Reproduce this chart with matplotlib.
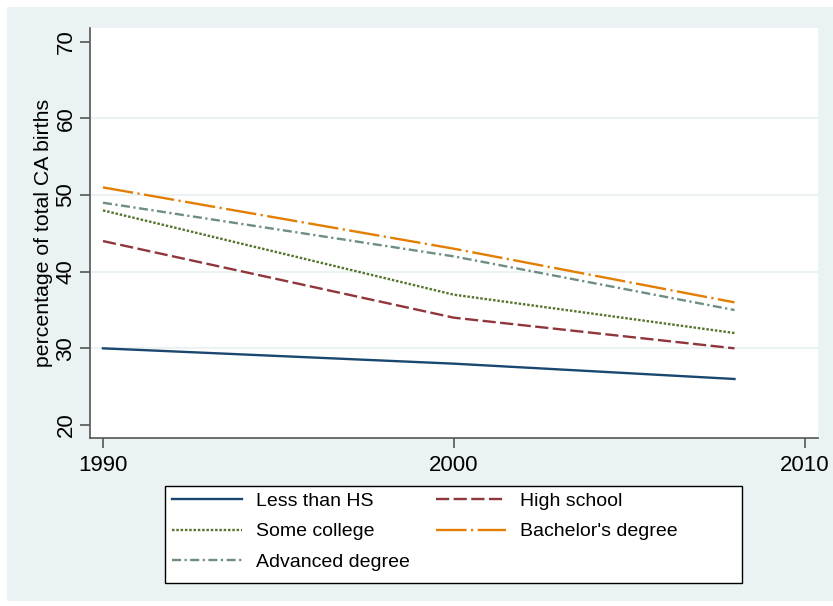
import matplotlib
matplotlib.use("Agg")
import matplotlib.pyplot as plt
from matplotlib.patches import Rectangle

plt.rcParams['font.family'] = ['Liberation Sans', 'DejaVu Sans']
plt.rcParams['lines.scale_dashes'] = False

years = [1990, 2000, 2008]
less_than_hs = [30, 28, 26]
high_school = [44, 34, 30]
some_college = [48, 37, 32]
bachelors = [51, 43, 36]
advanced = [49, 42, 35]

labels = ["Less than HS", "High school", "Some college",
          "Bachelor's degree", "Advanced degree"]
xticks = [1990, 2000, 2010]
yticks = [20, 30, 40, 50, 60, 70]

bg = '#eaf2f3'
axis_col = '#555555'

W, H = 833, 606
fig = plt.figure(figsize=(W/100, H/100), dpi=100)
fig.patch.set_facecolor('white')
fig.patches.append(Rectangle((7/W, 5/H), 826/W, 594/H,
                             transform=fig.transFigure, facecolor=bg,
                             edgecolor='none', zorder=-10))

ax = fig.add_axes([90/W, (H-438)/H, 728/W, 410/H])
ax.set_facecolor('white')

for y in [30, 40, 50, 60]:
    ax.axhline(y, color=bg, lw=1.5, zorder=1)

styles = [
    dict(color='#1a476f', ls='-'),
    dict(color='#90353b', ls=(0, (9.5, 3.2))),
    dict(color='#55752f', ls=(0, (1.8, 1.3))),
    dict(color='#e37e00', ls=(0, (22, 3.2, 1.6, 3.2))),
    dict(color='#6e8e84', ls=(0, (6.5, 2.5, 1.6, 2.5))),
]
series = [less_than_hs, high_school, some_college, bachelors, advanced]
handles = []
for vals, st, lab in zip(series, styles, labels):
    h, = ax.plot(years, vals, lw=1.7, label=lab, zorder=3, **st)
    handles.append(h)

ax.set_xlim(1989.63, 2010.38)
ax.set_ylim(18.3, 71.8)
ax.set_xticks(xticks)
ax.set_yticks(yticks)
ax.set_yticklabels([str(t) for t in yticks], rotation=90, va='center')
ax.tick_params(axis='both', direction='out', length=7, width=1.2,
               color=axis_col, labelsize=16)
ax.tick_params(axis='x', pad=5)
ax.tick_params(axis='y', pad=2.8)
for s in ['top', 'right']:
    ax.spines[s].set_visible(False)
for s in ['left', 'bottom']:
    ax.spines[s].set_color(axis_col)
    ax.spines[s].set_linewidth(1.2)
ax.set_ylabel("percentage of total CA births", fontsize=15.3)
ax.yaxis.set_label_coords((53-90)/728, 0.5)

# legend box drawn by hand, entries filled row-wise (Stata order)
fig.patches.append(Rectangle((165/W, (H-583)/H), 577/W, 97/H,
                             transform=fig.transFigure, facecolor='white',
                             edgecolor='black', lw=1.0, zorder=2))
order = [0, 2, 4, 1, 3]
leg = fig.legend([handles[i] for i in order], [labels[i] for i in order],
                 ncol=2, loc='upper left',
                 bbox_to_anchor=(172/W, (H-492)/H),
                 fontsize=14, frameon=False, borderpad=0, borderaxespad=0,
                 handlelength=3.6, handletextpad=0.72, columnspacing=1.35,
                 labelspacing=0.68)
leg.set_zorder(3)

fig.savefig('out.png', dpi=100)
